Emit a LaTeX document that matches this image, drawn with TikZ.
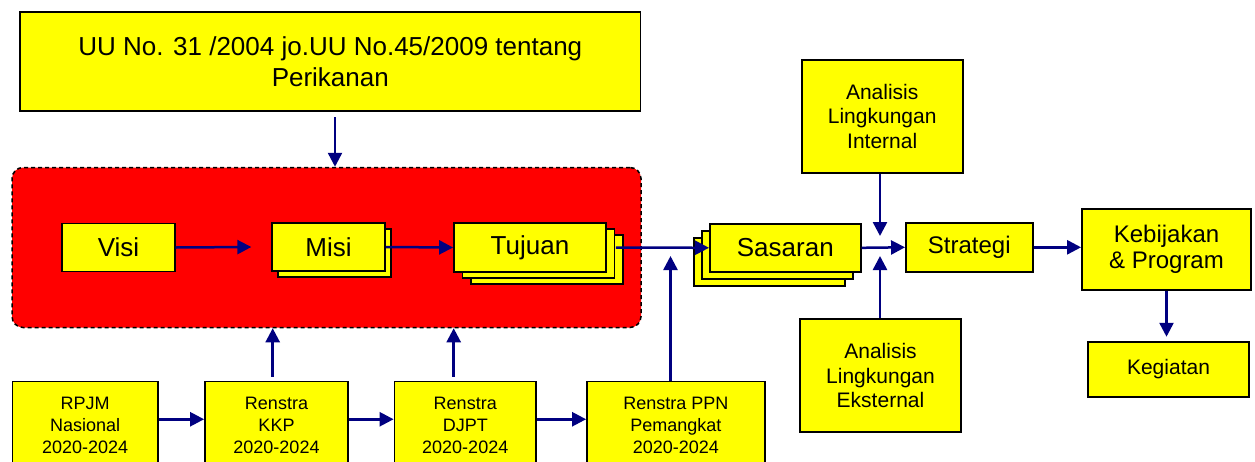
\documentclass[tikz,border=0pt]{standalone}
\usepackage{fontspec}
\setmainfont{Liberation Sans}
\usetikzlibrary{arrows.meta,shadows}
\definecolor{boxyellow}{RGB}{255,255,0}
\definecolor{arrowblue}{RGB}{0,0,128}
\tikzset{
box/.style={draw=black,line width=1.8pt,fill=boxyellow,inner sep=0pt,align=center},
fbig/.style={font=\fontsize{26}{31}\selectfont},
fmid/.style={font=\fontsize{24}{26.5}\selectfont},
fsmall/.style={font=\fontsize{21}{24.5}\selectfont},
ftiny/.style={font=\fontsize{18}{22}\selectfont},
arr/.style={draw=arrowblue,line width=2.5pt,-{Triangle[length=14pt,width=14pt]}}
}
\begin{document}
\begin{tikzpicture}[x=1pt,y=-1pt]
{
\clip (0,0) rectangle (1255,461);
\fill[white] (0,0) rectangle (1255,461);
%
\node[box,fbig,minimum width=620.5pt,minimum height=98.4pt] (uu) at (330.3,61.5)
 {UU No. 31 /2004 jo.UU No.45/2009 tentang\\Perikanan};
\node[draw=black,fill=red,line width=1.5pt,dash pattern=on 4pt off 3pt,rounded corners=11pt,
 minimum width=629pt,minimum height=160pt] (red) at (326.5,247.5) {};
%
\node[box,fbig,minimum width=112.4pt,minimum height=48pt] (visi) at (118.5,247.5) {Visi};
\node[box,fbig,minimum width=112.7pt,minimum height=48pt,
 copy shadow={shadow xshift=6pt,shadow yshift=-6pt}] (misi) at (328.6,247) {Misi};
\node[box,fbig,minimum width=152pt,minimum height=49pt,
 double copy shadow={shadow xshift=8.5pt,shadow yshift=-6pt}] (tujuan) at (530,247.5) {Tujuan};
\node[box,fbig,minimum width=150.7pt,minimum height=47.7pt,
 double copy shadow={shadow xshift=-8pt,shadow yshift=-7pt}] (sasaran) at (785.3,247.8) {Sasaran};
%
\node[box,fsmall,minimum width=161pt,minimum height=112.7pt] (internal) at (882.2,116.3)
 {Analisis\\Lingkungan\\Internal};
\node[box,fsmall,minimum width=161pt,minimum height=113pt] (eksternal) at (880.5,375.5)
 {Analisis\\Lingkungan\\Eksternal};
\node[box,fmid,minimum width=126.7pt,minimum height=48.7pt] (strategi) at (969.3,247.3) {Strategi};
\node[box,fmid,minimum width=169pt,minimum height=81pt] (kebijakan) at (1166.5,249.5)
 {Kebijakan\\\& Program};
\node[box,fsmall,minimum width=161pt,minimum height=55.3pt] (kegiatan) at (1168.5,369.3) {Kegiatan};
%
\node[box,ftiny,minimum width=145.6pt,minimum height=88.5pt] (rpjm) at (85.2,425.75)
 {RPJM\\Nasional\\2020-2024};
\node[box,ftiny,minimum width=143pt,minimum height=88.5pt] (kkp) at (276.5,425.75)
 {Renstra\\KKP\\2020-2024};
\node[box,ftiny,minimum width=141.5pt,minimum height=88.5pt] (djpt) at (465.25,425.75)
 {Renstra\\DJPT\\2020-2024};
\node[box,ftiny,minimum width=177.7pt,minimum height=88.5pt] (ppn) at (675.85,425.75)
 {Renstra PPN\\Pemangkat\\2020-2024};
%
\coordinate (uudown) at (335,117);
\coordinate (kkpup) at (272.7,376.7);
\coordinate (djptup) at (453.7,376.7);
\coordinate (ppntip) at (670.5,256);
\coordinate (meettop) at (880,236);
\coordinate (meetbot) at (880,256);
%
\draw[arr] (uudown) -- (uudown |- red.north);
\draw[arr] (visi.east) -- ([xshift=-20pt]misi.west);
\draw[arr] (misi.east) -- (tujuan.west);
\draw[arr] ([xshift=9pt]tujuan.east) -- (sasaran.west);
\draw[arr] (sasaran.east) -- (strategi.west);
\draw[arr] (strategi.east) -- (strategi.east -| kebijakan.west);
\draw[arr,shorten >=4pt] (kebijakan.south) -- (kebijakan.south |- kegiatan.north);
\draw[arr] (internal.south -| meettop) -- (meettop);
\draw[arr] (eksternal.north -| meetbot) -- (meetbot);
%
\draw[arr] ([yshift=6.5pt]rpjm.east) -- ([yshift=6.5pt]kkp.west);
\draw[arr] ([yshift=6.5pt]kkp.east) -- ([yshift=6.5pt]djpt.west);
\draw[arr] ([yshift=6.5pt]djpt.east) -- ([yshift=6.5pt]ppn.west);
\draw[arr] (kkpup) -- (kkpup |- red.south);
\draw[arr] (djptup) -- (djptup |- red.south);
\draw[arr] (ppn.north -| ppntip) -- (ppntip);
}
\end{tikzpicture}
\end{document}
